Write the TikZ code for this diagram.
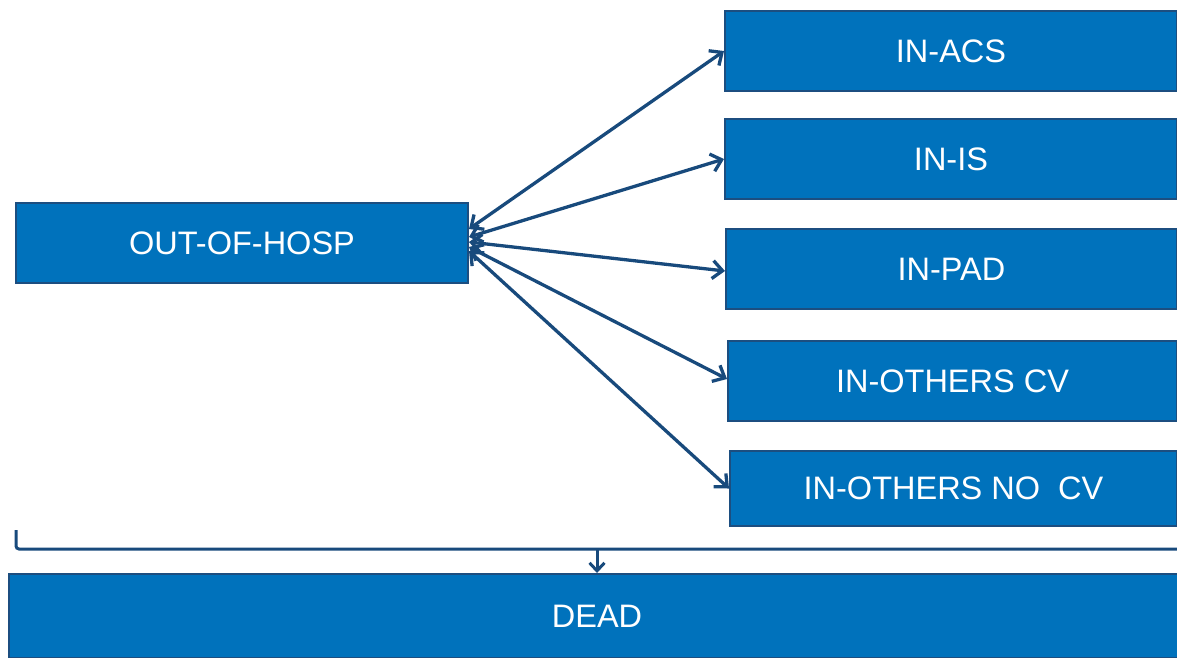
\documentclass[tikz,border=0pt]{standalone}
\usepackage{fontspec}
\setmainfont{Liberation Sans}
\usetikzlibrary{arrows.meta,positioning}
\definecolor{boxfill}{RGB}{0,114,188}
\definecolor{boxline}{RGB}{28,78,128}
\definecolor{arrowc}{RGB}{24,74,124}
\begin{document}
\begin{tikzpicture}[x=1pt,y=-1pt,
  box/.style={draw=boxline,line width=2pt,fill=boxfill,text=white,anchor=north west,
    inner sep=0pt,font=\fontsize{32.5}{38}\selectfont},
  conn/.style={draw=arrowc,line width=3.3pt,{Straight Barb[length=10pt,width=18pt,line width=3.3pt]}-{Straight Barb[length=10pt,width=18pt,line width=3.3pt]}},
  down/.style={draw=arrowc,line width=3pt,-{Straight Barb[length=8pt,width=15pt,line width=3pt]}}]
\useasboundingbox (0,0) rectangle (1177,657);
\begin{scope}
\clip (0,0) rectangle (1177,657);
\node[box,minimum width=452pt,minimum height=80pt] (acs) at (724,10) {IN-ACS};
\node[box,minimum width=452pt,minimum height=80pt] (is) at (724,118) {IN-IS};
\node[box,minimum width=451pt,minimum height=80pt] (pad) at (725,228) {IN-PAD};
\node[box,minimum width=449pt,minimum height=80pt] (cv) at (727,340) {IN-OTHERS CV};
\node[box,minimum width=447pt,minimum height=75pt] (nocv) at (729,450) {IN-OTHERS NO\ \ CV};
\node[box,minimum width=452pt,minimum height=80pt] (out) at (15,202) {OUT-OF-HOSP};
\node[box,minimum width=1176pt,minimum height=84pt] (dead) at (8,573) {DEAD};
\end{scope}
\draw[conn] ([yshift=14pt]out.east) -- (acs.west);
\draw[conn] ([yshift=6pt]out.east) -- (is.west);
\draw[conn] ([yshift=1pt]out.east) -- ([yshift=-2pt]pad.west);
\draw[conn] ([yshift=-4pt]out.east) -- ([yshift=2pt]cv.west);
\draw[conn] ([yshift=-8pt]out.east) -- (nocv.west);
\coordinate (bl) at (16,530);
\coordinate (br) at (1180,549);
\coordinate (bj) at (597,549);
\draw[draw=arrowc,line width=3pt,rounded corners=3pt] (bl) |- (br);
\draw[down] (bj) -- (bj |- dead.north);
\end{tikzpicture}
\end{document}
